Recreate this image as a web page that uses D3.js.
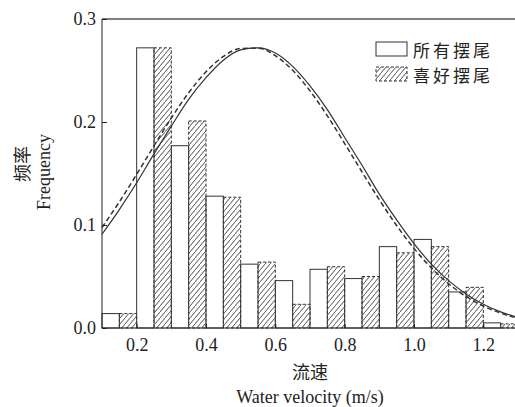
<!DOCTYPE html>
<html lang="zh">
  <head>
    <meta charset="UTF-8" />
    <script src="https://cdn.jsdelivr.net/npm/d3@7/dist/d3.min.js"></script>
    <style>
      body {
        margin: 0;
        background: #fff;
      }
      svg {
        display: block;
      }
      .axis text {
        font-family: "Liberation Serif", serif;
        font-size: 18px;
        fill: #222;
      }
      .axis path,
      .axis line {
        stroke: #222;
      }
      .zh {
        font-family: "Noto Sans CJK SC", sans-serif;
      }
      .en {
        font-family: "Liberation Serif", serif;
      }
    </style>
  </head>
  <body>
    <div class="canvas"></div>
    <script>
      // bins of 0.1 m/s, left edge of each bin
      const binStarts = [0.1, 0.2, 0.3, 0.4, 0.5, 0.6, 0.7, 0.8, 0.9, 1.0, 1.1, 1.2];
      const allTail = [0.014, 0.272, 0.177, 0.128, 0.062, 0.046, 0.057, 0.048, 0.079, 0.086, 0.035, 0.005];
      const prefTail = [0.014, 0.272, 0.201, 0.127, 0.064, 0.023, 0.0595, 0.05, 0.073, 0.079, 0.0395, 0.004];

      // fitted curves, every 0.05
      const curveX = [0.1, 0.15, 0.2, 0.25, 0.3, 0.35, 0.4, 0.45, 0.5, 0.55, 0.6, 0.65, 0.7,
        0.75, 0.8, 0.85, 0.9, 0.95, 1.0, 1.05, 1.1, 1.15, 1.2, 1.25, 1.3];
      const allCurve = [0.091, 0.115, 0.141, 0.169, 0.196, 0.222, 0.243, 0.26, 0.27, 0.272, 0.267,
        0.254, 0.235, 0.212, 0.185, 0.158, 0.13, 0.105, 0.082, 0.062, 0.046, 0.033, 0.023, 0.0156, 0.0103];
      const prefCurve = [0.0976, 0.1224, 0.1492, 0.1769, 0.2039, 0.2284, 0.2488, 0.2636, 0.2714,
        0.2717, 0.2644, 0.2502, 0.2302, 0.206, 0.1791, 0.1515, 0.1245, 0.0995, 0.0773, 0.0584,
        0.0429, 0.0306, 0.0213, 0.0144, 0.0094];

      const yTicks = [0, 0.1, 0.2, 0.3];
      const xTicks = [0.2, 0.4, 0.6, 0.8, 1.0, 1.2];
      const legendLabels = ["所有摆尾", "喜好摆尾"];

      const W = 515, H = 407;

      const x = d3.scaleLinear().domain([0.1, 1.3]).range([102, 518]);
      const y = d3.scaleLinear().domain([0, 0.3]).range([328, 19]);

      const svg = d3
        .select(".canvas")
        .append("svg")
        .attr("width", W)
        .attr("height", H);

      const defs = svg.append("defs");
      defs
        .append("pattern")
        .attr("id", "hatch")
        .attr("patternUnits", "userSpaceOnUse")
        .attr("width", 5)
        .attr("height", 6)
        .append("path")
        .attr("d", "M-1,7 L6,-1")
        .attr("stroke", "#333")
        .attr("stroke-width", 0.9);

      const halfW = x(0.15) - x(0.1);

      // white bars
      svg
        .append("g")
        .selectAll("rect")
        .data(binStarts)
        .join("rect")
        .attr("x", (d) => x(d))
        .attr("y", (d, i) => y(allTail[i]))
        .attr("width", halfW)
        .attr("height", (d, i) => y(0) - y(allTail[i]))
        .attr("fill", "#fff")
        .attr("stroke", "#333")
        .attr("stroke-width", 1);

      // hatched bars
      svg
        .append("g")
        .selectAll("rect")
        .data(binStarts)
        .join("rect")
        .attr("x", (d) => x(d + 0.05))
        .attr("y", (d, i) => y(prefTail[i]))
        .attr("width", halfW)
        .attr("height", (d, i) => y(0) - y(prefTail[i]))
        .attr("fill", "url(#hatch)")
        .attr("stroke", "#333")
        .attr("stroke-width", 1)
        .attr("stroke-dasharray", "3,2");

      const line = (vals) =>
        d3
          .line()
          .x((d, i) => x(curveX[i]))
          .y((d) => y(d))
          .curve(d3.curveMonotoneX)(vals);

      svg
        .append("path")
        .attr("d", line(allCurve))
        .attr("fill", "none")
        .attr("stroke", "#333")
        .attr("stroke-width", 1.2);

      svg
        .append("path")
        .attr("d", line(prefCurve))
        .attr("fill", "none")
        .attr("stroke", "#333")
        .attr("stroke-width", 1.5)
        .attr("stroke-dasharray", "5,3");

      // frame top
      svg
        .append("line")
        .attr("x1", x(0.1))
        .attr("x2", W)
        .attr("y1", y(0.3))
        .attr("y2", y(0.3))
        .attr("stroke", "#555")
        .attr("stroke-width", 1.5);

      svg
        .append("g")
        .attr("class", "axis")
        .attr("transform", `translate(${x(0.1)},0)`)
        .call(
          d3
            .axisLeft(y)
            .tickValues(yTicks)
            .tickFormat(d3.format(".1f"))
            .tickSize(-5)
            .tickPadding(6)
        )
        .call((g) => g.select(".domain").attr("d", `M0,${y(0)}V${y(0.3)}`));

      svg
        .append("g")
        .attr("class", "axis")
        .attr("transform", `translate(0,${y(0)})`)
        .call(
          d3
            .axisBottom(x)
            .tickValues(xTicks)
            .tickFormat(d3.format(".1f"))
            .tickSize(-4)
            .tickPadding(10)
        )
        .call((g) => g.select(".domain").attr("d", `M${x(0.1)},0H${W}`));

      // axis titles
      svg
        .append("text")
        .attr("class", "zh")
        .attr("x", 310)
        .attr("y", 379)
        .attr("text-anchor", "middle")
        .attr("font-size", 18)
        .attr("fill", "#222")
        .text("流速");
      svg
        .append("text")
        .attr("class", "en")
        .attr("x", 310)
        .attr("y", 403)
        .attr("text-anchor", "middle")
        .attr("font-size", 18)
        .attr("fill", "#222")
        .text("Water velocity (m/s)");

      svg
        .append("text")
        .attr("class", "zh")
        .attr("transform", "translate(29,164) rotate(-90)")
        .attr("text-anchor", "middle")
        .attr("font-size", 18)
        .attr("fill", "#222")
        .text("频率");
      svg
        .append("text")
        .attr("class", "en")
        .attr("transform", "translate(50,172) rotate(-90)")
        .attr("text-anchor", "middle")
        .attr("font-size", 18)
        .attr("fill", "#222")
        .text("Frequency");

      // legend
      const legend = svg
        .append("g")
        .selectAll("g")
        .data(legendLabels)
        .join("g")
        .attr("transform", (d, i) => `translate(376,${42 + i * 25})`);
      legend
        .append("rect")
        .attr("width", 31)
        .attr("height", 14)
        .attr("fill", (d, i) => (i === 0 ? "#fff" : "url(#hatch)"))
        .attr("stroke", "#333")
        .attr("stroke-dasharray", (d, i) => (i === 0 ? null : "3,2"));
      legend
        .append("text")
        .attr("class", "zh")
        .attr("x", 37)
        .attr("y", 7)
        .attr("dominant-baseline", "central")
        .attr("font-size", 17)
        .attr("letter-spacing", 3)
        .attr("fill", "#222")
        .text((d) => d);
    </script>
  </body>
</html>
